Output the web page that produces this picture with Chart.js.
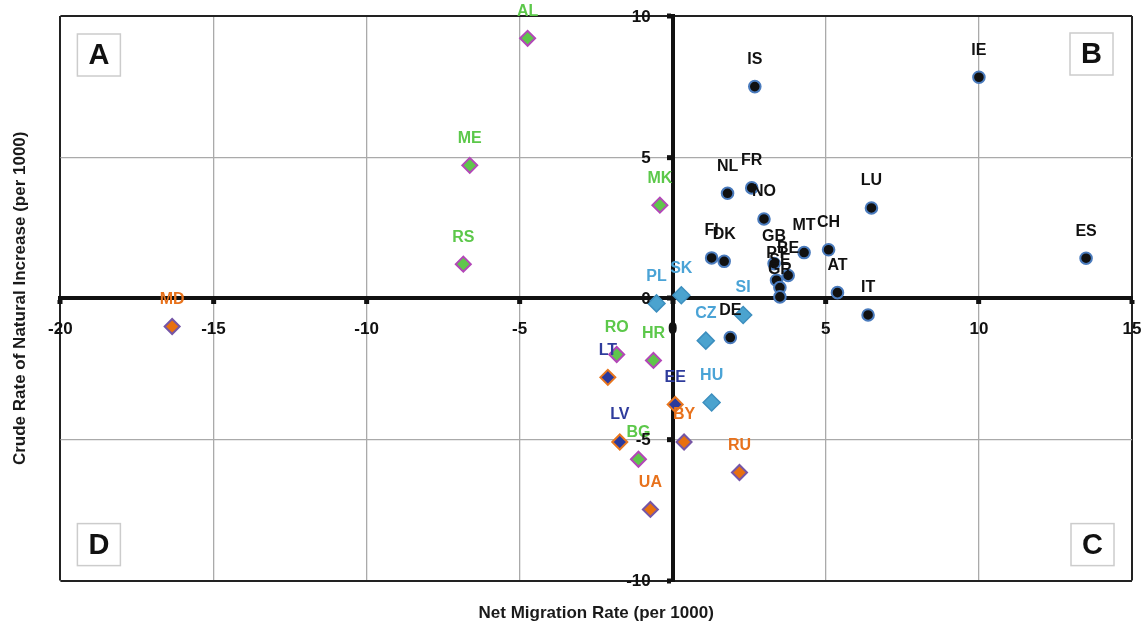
<!DOCTYPE html>
<html>
<head>
<meta charset="utf-8">
<script src="https://cdn.jsdelivr.net/npm/chart.js@4.4.1/dist/chart.umd.min.js"></script>
<style>
html, body { margin: 0; padding: 0; background: #fff; }
#wrap { width: 1146px; height: 628px; }
</style>
</head>
<body>
<div id="wrap"><canvas id="scatter"></canvas></div>
<script>
// West / North / South EU - circles
const westCodes = ["IS","IE","NL","FR","NO","LU","FI","DK","GB","BE","PT","SE","GR","MT","CH","AT","IT","ES","DE"];
const westMigration = [2.68, 10.0, 1.79, 2.58, 2.98, 6.49, 1.27, 1.68, 3.31, 3.77, 3.39, 3.50, 3.50, 4.29, 5.09, 5.38, 6.38, 13.5, 1.88];
const westIncrease = [7.50, 7.83, 3.72, 3.91, 2.81, 3.20, 1.43, 1.31, 1.23, 0.81, 0.64, 0.38, 0.05, 1.62, 1.72, 0.20, -0.59, 1.42, -1.39];

// Central Europe
const centralCodes = ["PL","SK","SI","CZ","HU"];
const centralMigration = [-0.53, 0.28, 2.30, 1.08, 1.27];
const centralIncrease = [-0.18, 0.11, -0.59, -1.50, -3.69];

// Balkans
const balkanCodes = ["AL","ME","RS","MK","RO","HR","BG"];
const balkanMigration = [-4.74, -6.63, -6.84, -0.42, -1.83, -0.63, -1.12];
const balkanIncrease = [9.21, 4.71, 1.21, 3.30, -1.99, -2.20, -5.70];

// East
const eastCodes = ["MD","BY","RU","UA"];
const eastMigration = [-16.35, 0.37, 2.18, -0.73];
const eastIncrease = [-1.00, -5.09, -6.17, -7.48];

// Baltic
const balticCodes = ["LT","EE","LV"];
const balticMigration = [-2.12, 0.08, -1.73];
const balticIncrease = [-2.80, -3.76, -5.09];

const quadrantLetters = ["A","B","C","D"];

const xTitle = "Net Migration Rate (per 1000)";
const yTitle = "Crude Rate of Natural Increase (per 1000)";

const FONT = "'Liberation Sans', Arial, Helvetica, sans-serif";
Chart.defaults.font.family = FONT;

function toPoints(xs, ys) {
  return xs.map((x, i) => ({ x: x, y: ys[i] }));
}

// labels above every point
const pointLabels = {
  id: "pointLabels",
  afterDatasetsDraw(chart) {
    const ctx = chart.ctx;
    ctx.save();
    ctx.font = "bold 16px " + FONT;
    ctx.textAlign = "center";
    ctx.textBaseline = "middle";
    chart.data.datasets.forEach((ds, i) => {
      const meta = chart.getDatasetMeta(i);
      ctx.fillStyle = ds.labelColor;
      meta.data.forEach((pt, j) => {
        ctx.fillText(ds.codes[j], pt.x, pt.y - 27);
      });
    });
    ctx.restore();
  }
};

// y tick labels sit left of the vertical zero line
const yTickLabels = {
  id: "yTickLabels",
  afterDraw(chart) {
    const ctx = chart.ctx;
    const xs = chart.scales.x, ys = chart.scales.y;
    const x0 = xs.getPixelForValue(0);
    ctx.save();
    ctx.font = "bold 17px " + FONT;
    ctx.fillStyle = "#111";
    ctx.textAlign = "right";
    ctx.textBaseline = "middle";
    ys.ticks.forEach(t => {
      ctx.fillText(String(t.value), x0 - 22, ys.getPixelForValue(t.value) + 1);
    });
    ctx.restore();
  }
};

// A B C D boxes in the corners
const quadrantBoxes = {
  id: "quadrantBoxes",
  afterDraw(chart) {
    const ctx = chart.ctx;
    const a = chart.chartArea;
    const w = 43, h = 42;
    const spots = [
      [a.left + 17, a.top + 18],
      [a.right - 19 - w, a.top + 17],
      [a.right - 18 - w, a.bottom - 15 - h],
      [a.left + 17, a.bottom - 15 - h]
    ];
    ctx.save();
    spots.forEach((s, i) => {
      ctx.fillStyle = "#fff";
      ctx.fillRect(s[0], s[1], w, h);
      ctx.strokeStyle = "#cccccc";
      ctx.lineWidth = 1.5;
      ctx.strokeRect(s[0], s[1], w, h);
      ctx.fillStyle = "#111";
      ctx.font = "bold 29px " + FONT;
      ctx.textAlign = "center";
      ctx.textBaseline = "middle";
      ctx.fillText(quadrantLetters[i], s[0] + w / 2, s[1] + h / 2 + 1);
    });
    ctx.restore();
  }
};

function gridColor(edges) {
  return ctx => {
    const v = ctx.tick.value;
    if (v === 0) return "#111";
    if (edges.includes(v)) return "#222";
    return "#aaaaaa";
  };
}
function gridWidth(edges) {
  return ctx => {
    const v = ctx.tick.value;
    if (v === 0) return 4;
    if (edges.includes(v)) return 2;
    return 1.3;
  };
}

const ctxScatter = document.querySelector("#scatter").getContext("2d");

const scatterChart = new Chart(ctxScatter, {
  type: "scatter",
  data: {
    datasets: [
      {
        label: "West",
        codes: westCodes,
        labelColor: "#111111",
        data: toPoints(westMigration, westIncrease),
        pointStyle: "circle",
        pointRadius: 5.8,
        borderWidth: 2,
        backgroundColor: "#111111",
        borderColor: "#4a7bbd"
      },
      {
        label: "Central",
        codes: centralCodes,
        labelColor: "#4aa3d6",
        data: toPoints(centralMigration, centralIncrease),
        pointStyle: "rectRot",
        pointRadius: 8.5,
        borderWidth: 1.5,
        backgroundColor: "#4ba3cf",
        borderColor: "#3d8fbf"
      },
      {
        label: "Balkans",
        codes: balkanCodes,
        labelColor: "#5cc84a",
        data: toPoints(balkanMigration, balkanIncrease),
        pointStyle: "rectRot",
        pointRadius: 7.5,
        borderWidth: 2,
        backgroundColor: "#5fc64b",
        borderColor: "#b347b8"
      },
      {
        label: "East",
        codes: eastCodes,
        labelColor: "#e8721c",
        data: toPoints(eastMigration, eastIncrease),
        pointStyle: "rectRot",
        pointRadius: 7.5,
        borderWidth: 2,
        backgroundColor: "#e8700f",
        borderColor: "#7556a6"
      },
      {
        label: "Baltic",
        codes: balticCodes,
        labelColor: "#2f3c9c",
        data: toPoints(balticMigration, balticIncrease),
        pointStyle: "rectRot",
        pointRadius: 7.5,
        borderWidth: 2,
        backgroundColor: "#2b3a9e",
        borderColor: "#e8761e"
      }
    ]
  },
  options: {
    responsive: true,
    maintainAspectRatio: false,
    animation: false,
    layout: { padding: { top: 16, right: 14, left: 0, bottom: 0 } },
    plugins: {
      legend: { display: false },
      tooltip: { enabled: false },
      title: {
        display: true,
        text: yTitle,
        position: "left",
        fullSize: false,
        color: "#1a1a1a",
        font: { size: 17, weight: "bold", lineHeight: 1.2 },
        padding: { top: 10, bottom: 30 }
      },
      subtitle: {
        display: true,
        text: xTitle,
        position: "bottom",
        fullSize: false,
        color: "#1a1a1a",
        font: { size: 17, weight: "bold", lineHeight: 1.2 },
        padding: { top: 23, bottom: 4 }
      }
    },
    scales: {
      x: {
        type: "linear",
        position: { y: 0 },
        min: -20,
        max: 15,
        afterFit: s => { s.paddingLeft = 0; s.paddingRight = 0; },
        ticks: {
          stepSize: 5,
          color: "#111",
          padding: 17,
          font: { size: 17, weight: "bold" }
        },
        grid: {
          color: gridColor([-20, 15]),
          lineWidth: gridWidth([-20, 15]),
          tickColor: "#111",
          tickWidth: 5,
          tickLength: 4
        },
        border: { display: true, color: "#111", width: 4 }
      },
      y: {
        type: "linear",
        position: { x: 0 },
        min: -10,
        max: 10,
        ticks: {
          stepSize: 5,
          display: false
        },
        grid: {
          color: gridColor([-10, 10]),
          lineWidth: gridWidth([-10, 10]),
          tickColor: "#111",
          tickWidth: 5,
          tickLength: 4
        },
        border: { display: true, color: "#111", width: 4 }
      }
    }
  },
  plugins: [pointLabels, yTickLabels, quadrantBoxes]
});
</script>
</body>
</html>
